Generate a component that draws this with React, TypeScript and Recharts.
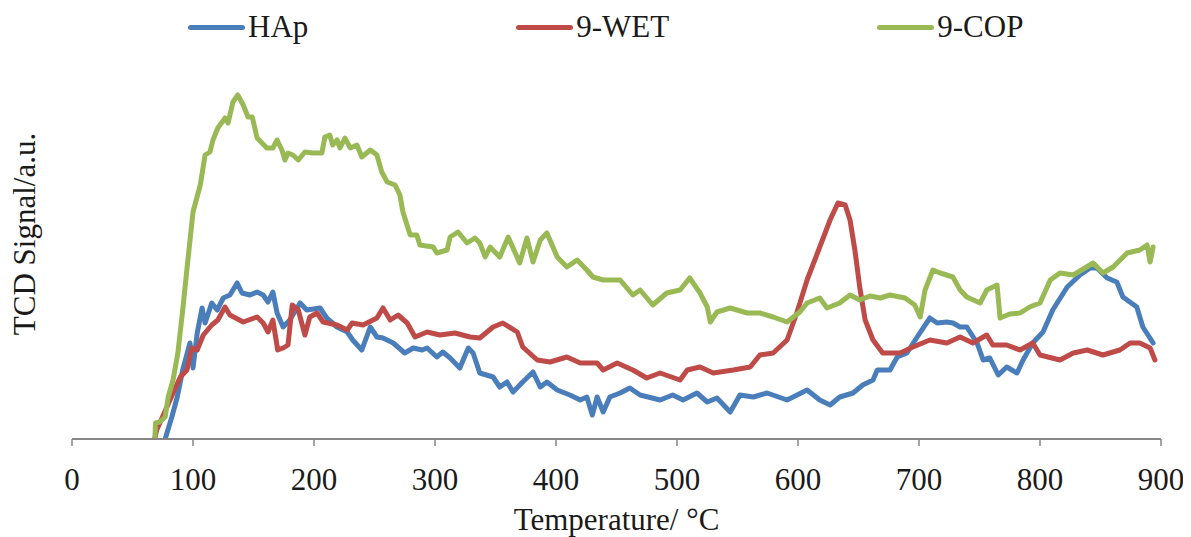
import React from 'react';
import { LineChart, Line, XAxis, YAxis, Legend, Label, Customized } from 'recharts';

// Temperature ticks
const xTicks = [0, 100, 200, 300, 400, 500, 600, 700, 800, 900];
const seriesNames = ['HAp', '9-WET', '9-COP'];

// HAp
const hapTemp = [
  77, 82.5, 87, 91.5, 97.5, 100, 103.5, 107.5, 110, 115.5,
  120, 125, 130.5, 136.5, 140.5, 147, 153, 158, 162, 166,
  169.5, 174.5, 180, 188.5, 194, 205, 210.5, 219, 227.5, 232,
  239.5, 246.5, 252, 257, 265.5, 275, 282, 289.5, 293.5, 301.5,
  306.5, 312.5, 320.5, 327.5,
  331.5, 337, 348, 353.5, 359.5, 364.5, 372.5, 381, 387, 392.5, 401,
  411.5, 420, 425.5, 430, 434, 439, 444.5, 453, 461, 469.5,
  486, 496.5, 505, 516.5, 525, 533, 544, 552, 563, 574.5,
  591, 607.5, 618, 626.5, 634.5, 645.5, 653.5, 662, 665.5, 676,
  682, 690, 698.5, 709, 715, 723, 728, 734, 739.5, 748,
  753, 758.5, 765.5, 772.5, 781, 786, 794, 802.5, 810.5, 822.5,
  833, 841.5, 847, 855.5, 863.5, 868.5, 880, 885, 893.5,
];
const hapSignal = [
  0, 22, 42, 69, 96, 71, 106, 131, 116, 136,
  129, 141, 144, 156, 146, 144, 147, 144, 137, 147,
  126, 112, 119, 136, 129, 131, 121, 112, 107, 99,
  89, 112, 102, 101, 96, 86, 91, 89, 91, 82,
  87, 81, 71, 91,
  86, 66, 62, 52, 57, 47, 57, 67, 52, 57, 49,
  44, 39, 42, 24, 42, 27, 42, 46, 51, 44,
  39, 44, 39, 46, 37, 41, 27, 44, 42, 46,
  39, 49, 39, 34, 42, 46, 54, 59, 69, 69,
  82, 86, 102, 121, 116, 117, 116, 112, 112, 96,
  79, 81, 64, 72, 66, 79, 96, 107, 129, 152,
  164, 171, 171, 161, 157, 142, 132, 112, 96,
];

// 9-WET
const wetTemp = [
  68.5, 70, 81, 89.5, 95, 99, 103.5, 108.5, 115.5, 120.5,
  126.5, 130.5, 141.5, 153, 158, 162, 166, 170, 174.5, 178.5,
  182, 187, 192.5, 196.5, 202.5, 207.5, 219, 227.5, 231.5, 240.5,
  252, 257, 263, 269.5, 277, 283.5, 293.5, 304, 316.5, 329,
  337, 348, 356, 368, 372.5, 384.5, 395, 409, 420, 434, 439,
  450.5, 463.5, 475, 486, 502.5, 508.5, 519, 530, 546.5, 560.5,
  568.5, 579.5, 591, 599, 607.5, 618, 626.5, 633, 639, 643,
  647, 651, 655.5, 662, 670, 684.5, 695, 709, 723, 734,
  744.5, 756, 761, 772.5, 783.5, 794, 800, 816.5, 827.5, 839,
  852, 866, 874.5, 882.5, 891, 895,
];
const wetSignal = [
  1, 9, 39, 62, 69, 91, 89, 104, 114, 119,
  132, 124, 117, 122, 116, 107, 119, 89, 91, 94,
  134, 129, 104, 122, 126, 117, 114, 109, 116, 114,
  121, 131, 119, 124, 116, 102, 107, 104, 106, 102,
  101, 112, 116, 107, 92, 79, 77, 82, 76, 76, 69,
  76, 69, 61, 66, 59, 69, 72, 66, 69, 72,
  84, 86, 99, 126, 159, 192, 219, 236, 234, 219,
  189, 152, 119, 99, 86, 86, 92, 99, 96, 102,
  96, 104, 94, 94, 89, 96, 84, 79, 86, 89,
  84, 89, 96, 96, 91, 79,
];

// 9-COP
const copTemp = [
  68.5, 69, 72.5, 77, 79.5, 83.5, 87.5, 91.5, 95, 100,
  106, 110, 114, 116.5, 120.5, 126.5, 129, 133, 137, 141.5,
  145.5, 149, 153, 157, 161, 166, 169.5, 173.5, 176, 178.5,
  182.5, 187, 192.5, 199, 206.5, 209, 213, 215.5, 219, 221.5,
  225.5, 230, 235.5, 239.5, 246.5, 252, 256, 260.5, 267, 271,
  273.5, 279.5, 285, 287.5, 298.5, 301.5, 310, 312.5, 319, 326.5,
  333, 337,
  341.5, 345.5, 353.5, 360.5, 370, 376, 381, 387, 392.5, 401,
  409, 417.5, 425.5, 430.5, 439, 453, 463.5, 469.5, 480, 491.5,
  502.5, 510.5, 519, 525, 527.5, 533, 544, 558, 568.5, 579.5,
  591, 601.5, 607.5, 618, 624, 634.5, 643, 651, 659.5, 668,
  676, 688.5, 696.5, 701, 705, 711.5, 717.5, 728, 734, 739.5,
  750.5, 756, 764.5, 767, 775, 783.5, 791.5, 800, 808.5, 816.5,
  827.5, 844, 852, 860.5, 872, 882.5, 888.5, 891, 893.5,
];
const copSignal = [
  0, 16, 17, 22, 42, 59, 86, 129, 170, 227,
  254, 284, 287, 299, 311, 321, 316, 337, 344, 334,
  322, 322, 301, 296, 291, 291, 299, 289, 279, 286,
  284, 279, 287, 286, 286, 302, 304, 294, 299, 291,
  301, 291, 294, 282, 289, 284, 267, 257, 254, 244,
  227, 204, 204, 194, 192, 186, 189, 202, 207, 196,
  201, 196,
  182, 192, 182, 202, 176, 201, 177, 199, 206, 182,
  172, 179, 169, 162, 159, 159, 144, 149, 134, 146,
  149, 161, 146, 132, 117, 127, 131, 126, 126, 122,
  117, 127, 136, 141, 131, 136, 144, 139, 143, 141,
  144, 141, 134, 122, 149, 169, 166, 162, 149, 142,
  136, 149, 154, 121, 125, 126, 132, 136, 159, 166,
  164, 176, 166, 172, 186, 189, 194, 177, 192,
];

const hapData = hapTemp.map((t, i) => ({ t, v: hapSignal[i] }));
const wetData = wetTemp.map((t, i) => ({ t, v: wetSignal[i] }));
const copData = copTemp.map((t, i) => ({ t, v: copSignal[i] }));

const FONT = '"Liberation Serif", "Times New Roman", serif';
const TEXT = '#1a1a1a';
const AXIS = '#868686';

const renderLegend = (props: any) => {
  const payload = [...(props.payload || [])].sort(
    (a: any, b: any) => seriesNames.indexOf(a.value) - seriesNames.indexOf(b.value)
  );
  return (
    <div
      style={{
        position: 'absolute',
        top: 1,
        left: 180,
        display: 'flex',
        gap: 208,
        fontFamily: FONT,
        fontSize: 31,
        color: TEXT,
        whiteSpace: 'nowrap',
        lineHeight: '36px',
      }}
    >
      {payload.map((p: any) => (
        <div key={p.value} style={{ display: 'flex', alignItems: 'center' }}>
          <span
            style={{
              display: 'inline-block',
              width: 57,
              height: 5,
              borderRadius: 3,
              background: p.color,
              marginRight: 3,
            }}
          />
          <span>{p.value}</span>
        </div>
      ))}
    </div>
  );
};

const YTitle = () => (
  <text
    x={27}
    y={226}
    transform="rotate(-90, 27, 226)"
    textAnchor="middle"
    fontFamily={FONT}
    fontSize={31}
    fill={TEXT}
  >
    TCD Signal/a.u.
  </text>
);

export default function App() {
  return (
    <LineChart width={1183} height={529} margin={{ top: 35, right: 30, bottom: 0, left: 64 }}>
      <XAxis
        type="number"
        dataKey="t"
        domain={[0, 900]}
        ticks={xTicks}
        interval={0}
        allowDataOverflow
        height={98}
        axisLine={{ stroke: AXIS, strokeWidth: 2 }}
        tickLine={{ stroke: AXIS, strokeWidth: 1.5 }}
        tickSize={7}
        tickMargin={22}
        tick={{ fill: TEXT, fontSize: 31, fontFamily: FONT }}
      >
        <Label
          value="Temperature/ °C"
          position="insideBottom"
          offset={7}
          style={{ fill: TEXT, fontSize: 31, fontFamily: FONT }}
        />
      </XAxis>
      <YAxis
        type="number"
        domain={[0, 396]}
        allowDataOverflow
        width={0}
        tick={false}
        tickLine={false}
        axisLine={{ stroke: AXIS, strokeWidth: 2 }}
      />
      <Legend
        verticalAlign="top"
        content={renderLegend}
        wrapperStyle={{ top: 0, left: 0, width: 0, height: 0, overflow: 'visible' }}
      />
      <Customized component={YTitle} />
      <Line data={hapData} dataKey="v" name="HAp" stroke="#4A7EBB" strokeWidth={5} dot={false}
        strokeLinejoin="round" strokeLinecap="round" isAnimationActive={false} />
      <Line data={wetData} dataKey="v" name="9-WET" stroke="#BE4B48" strokeWidth={5} dot={false}
        strokeLinejoin="round" strokeLinecap="round" isAnimationActive={false} />
      <Line data={copData} dataKey="v" name="9-COP" stroke="#98B954" strokeWidth={5} dot={false}
        strokeLinejoin="round" strokeLinecap="round" isAnimationActive={false} />
    </LineChart>
  );
}
